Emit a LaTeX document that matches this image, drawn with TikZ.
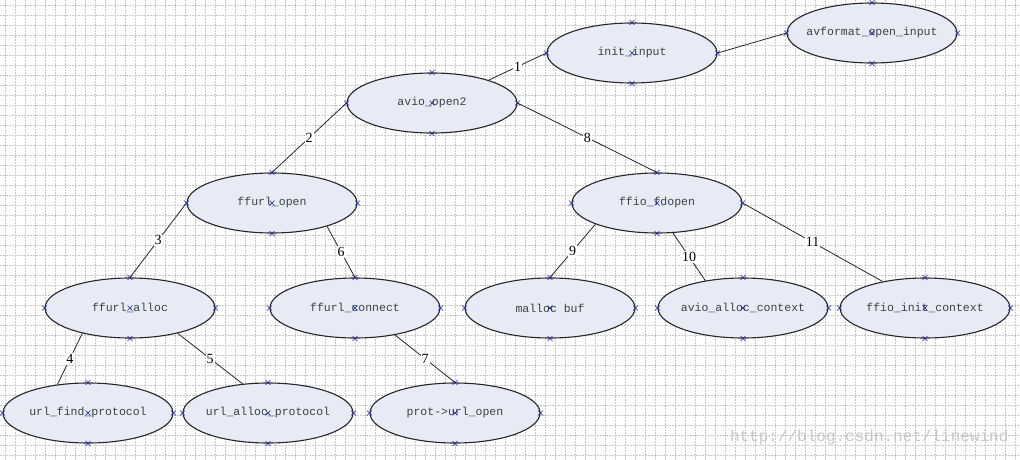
\documentclass[tikz,border=0pt]{standalone}
\usepackage{fontspec}
\usepackage{tikz}
\setmonofont{Liberation Mono}
\newfontfamily\numfont{Liberation Serif}
\usetikzlibrary{shapes.geometric}
\definecolor{callfill}{RGB}{230,235,246}
\definecolor{markblue}{RGB}{30,30,170}
\definecolor{gridgray}{RGB}{200,200,200}
\tikzset{
	call/.style={ellipse, draw=black!85, line width=1.1pt, fill=callfill,
		minimum width=170pt, minimum height=60pt, inner xsep=-10pt, inner ysep=0pt,
		font=\ttfamily\fontsize{11.5}{12}\selectfont, text=black!75},
	link/.style={line width=0.8pt, draw=black!85},
	order/.style={fill=white, inner sep=1pt, font=\numfont\fontsize{14}{14}\selectfont},
	gridline/.style={gridgray, line width=0.5pt, dash pattern=on 2pt off 1pt},
	cpmark/.style={markblue, line width=0.6pt},
	% watermark in the corner
	wmark/.style={font=\ttfamily\fontsize{16}{16}\selectfont, text=black!22, anchor=east},
}
\begin{document}
\begin{tikzpicture}[x=1pt, y=-1pt]
			\useasboundingbox (0,0) rectangle (1020,460);
			\foreach \gx in {5,15,...,1015} \draw[gridline] (\gx,0) -- (\gx,460);
			\foreach \gy in {5,15,...,455} \draw[gridline] (0,\gy) -- (1020,\gy);
			\node[call](initin) at (632,53){init\_input};
			\node[call](avfopen) at (872,33){avformat\_open\_input};
			\node[call](avio) at (432,103){avio\_open2};
			\node[call](urlopen) at (272,203){ffurl\_open};
			\node[call](fdopen) at (657,203){ffio\_fdopen};
			\node[call](urlalloc) at (130,308){ffurl\_alloc};
			\node[call](urlconn) at (355,308){ffurl\_connect};
			\node[call](mallocbuf) at (550,308){malloc buf};
			\node[call](allocctx) at (743,308){avio\_alloc\_context};
			\node[call](initctx) at (925,308){ffio\_init\_context};
			\node[call](findprot) at (88,413){url\_find\_protocol};
			\node[call](allocprot) at (268,413){url\_alloc\_protocol};
			\node[call](protopen) at (455,413){prot->url\_open};
			\draw[link](avio.22)--node[order]{1}(initin.west);\draw[link](initin.east)--(avfopen.west);
			\draw[link](avio.west)--node[order]{2}(urlopen.north);\draw[link](avio.east)--node[order]{8}(fdopen.north);
			\draw[link](urlopen.west)--node[order]{3}(urlalloc.north);\draw[link](urlopen.-23)--node[order]{6}(urlconn.north);
			\draw[link](urlalloc.-152)--node[order]{4}(findprot.137);\draw[link](urlalloc.-28)--node[order]{5}(allocprot.131);
			\draw[link](urlconn.-34)--node[order]{7}(protopen.north);
			\draw[link](fdopen.-161)--node[order]{9}(mallocbuf.north);\draw[link](fdopen.-62)--node[order]{10}(allocctx.144);
			\draw[link](fdopen.east)--node[order]{11}(initctx.148);
			\foreach \n in {initin,avfopen,avio,urlopen,fdopen,urlalloc,urlconn,mallocbuf,allocctx,initctx,findprot,allocprot,protopen}
				\foreach \a in {north,south,east,west,center}
					\draw[cpmark](\n.\a) +(-2.5,-2.5) -- +(2.5,2.5) +(-2.5,2.5) -- +(2.5,-2.5);
			\node[wmark](blog) at (1012,437){http://blog.csdn.net/linewind};
		\end{tikzpicture}
\end{document}
